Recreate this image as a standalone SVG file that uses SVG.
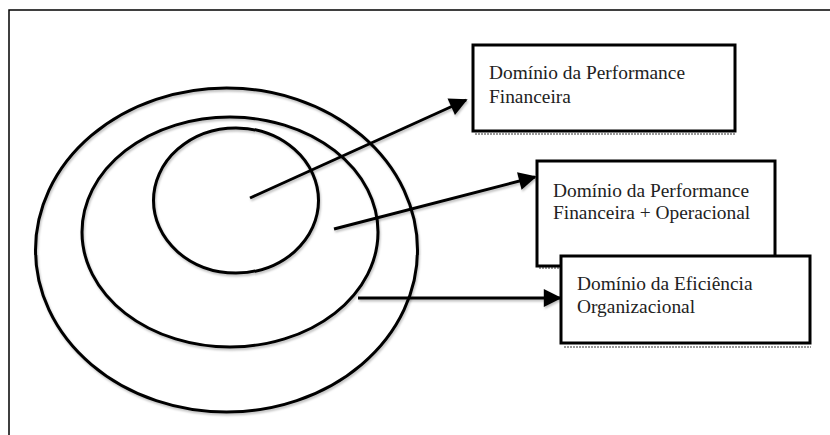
<svg xmlns="http://www.w3.org/2000/svg" width="830" height="435" viewBox="0 0 830 435">
<defs>
<marker id="ah" viewBox="0 0 10 10" refX="9" refY="5" markerWidth="7.3" markerHeight="6" markerUnits="strokeWidth" orient="auto">
<path d="M0,0 L10,5 L0,10 Z" fill="#000"/>
</marker>
<filter id="sh" x="-10%" y="-10%" width="120%" height="120%">
<feDropShadow dx="1" dy="2" stdDeviation="1" flood-color="#000" flood-opacity="0.25"/>
</filter>
</defs>
<style>
.ring{fill:none;stroke:#000;stroke-width:3}
.box{fill:#fff;stroke:#000;stroke-width:3}
.shd{fill:none;stroke:#999;stroke-width:2;stroke-dasharray:2 1}
.lbl{font-family:"Liberation Serif","Times New Roman",serif;font-size:19.4px;fill:#222}
.conn{fill:none;stroke:#000;stroke-width:3;marker-end:url(#ah)}
</style>
<rect width="830" height="435" fill="#fff"/>
<g id="frame">
<path d="M9,435 L9,10 L830,10" fill="none" stroke="#000" stroke-width="1.5"/>
</g>
<g id="rings" filter="url(#sh)">
<ellipse id="ring-outer" class="ring" cx="226.5" cy="250" rx="191" ry="162"/>
<ellipse id="ring-middle" class="ring" cx="230" cy="232" rx="148" ry="115"/>
<ellipse id="ring-inner" class="ring" cx="236" cy="200.5" rx="82.5" ry="72.5"/>
</g>
<g id="connectors" filter="url(#sh)">
<line class="conn" x1="250" y1="198" x2="466" y2="100"/>
<line class="conn" x1="334" y1="229" x2="535" y2="177"/>
<line class="conn" x1="358" y1="298" x2="560" y2="298"/>
</g>
<g id="node-financeira">
<line class="shd" x1="475" y1="134" x2="736" y2="134"/>
<rect class="box" x="473" y="45" width="262" height="86"/>
<text class="lbl" x="489" y="79">Domínio da Performance</text>
<text class="lbl" x="489" y="103">Financeira</text>
</g>
<g id="node-operacional">
<line class="shd" x1="539" y1="268" x2="562" y2="268"/>
<rect class="box" x="537" y="161" width="238" height="105"/>
<text class="lbl" x="553" y="197">Domínio da Performance</text>
<text class="lbl" x="553" y="219">Financeira + Operacional</text>
</g>
<g id="node-organizacional">
<line class="shd" x1="564" y1="347" x2="811" y2="347"/>
<rect class="box" x="561" y="256" width="249" height="87"/>
<text class="lbl" x="577" y="290">Domínio da Eficiência</text>
<text class="lbl" x="577" y="313">Organizacional</text>
</g>
</svg>
